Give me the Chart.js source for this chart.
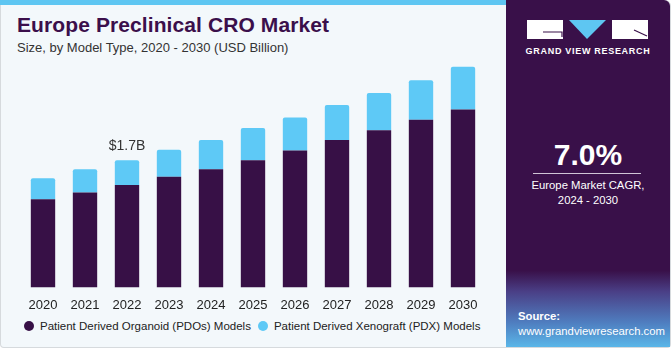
<!DOCTYPE html>
<html>
<head>
<meta charset="utf-8">
<script src="https://cdn.jsdelivr.net/npm/chart.js@4"></script>
<style>
    html, body { margin: 0; padding: 0; }
    body { width: 671px; height: 350px; position: relative; overflow: hidden; background: #ffffff; font-family: "Liberation Sans", Arial, sans-serif; }
    .card { position: absolute; left: 0; top: 0; width: 669px; height: 347px; background: #f3f8fb; border: 1px solid #d6dadd; border-top: none; border-radius: 0 6px 4px 4px; }
    .strip { position: absolute; left: 0; top: 0; width: 506px; height: 5px; background: #5ec6f2; }
    .title { position: absolute; left: 17px; top: 13px; font-size: 21px; font-weight: bold; color: #3b0f4b; letter-spacing: 0.1px; }
    .subtitle { position: absolute; left: 17px; top: 40px; font-size: 13px; color: #333; }
    .panel { position: absolute; left: 506px; top: 0; width: 164px; height: 347px; border-radius: 0 6px 0 0;
        background: linear-gradient(to bottom, #391049 0%, #391049 78%, #4a3f86 84%, #4f7ec0 93%, #5ab6e8 100%); }
    .brand { position: absolute; left: 0; top: 46px; width: 164px; text-align: center; white-space: nowrap; font-size: 9px; font-weight: bold; color: #fff; letter-spacing: 0.7px; }
    .cagr { position: absolute; left: 0; top: 140px; width: 164px; text-align: center; font-size: 30px; line-height: 30px; font-weight: bold; color: #fff; }
    .rule { position: absolute; left: 27px; top: 173px; width: 108px; height: 1px; background: #cfc4d6; }
    .cagr-txt { position: absolute; left: 0; top: 178px; width: 164px; text-align: center; font-size: 11.3px; color: #fff; line-height: 15px; }
    .src { position: absolute; left: 12px; top: 309px; font-size: 11.3px; color: #fff; line-height: 15px; }
    .chart-box { position: absolute; left: 0; top: 63px; width: 500px; height: 252px; }
    .legend { position: absolute; left: 24px; top: 320px; font-size: 11.5px; color: #222; white-space: nowrap; }
    .legend span.item { display: inline-block; margin-right: 7px; }
    .legend i { display: inline-block; width: 10px; height: 10px; border-radius: 50%; margin-right: 6px; vertical-align: -1px; }
</style>
</head>
<body>
<div class="card"></div>
<div class="strip"></div>
<div class="title">Europe Preclinical CRO Market</div>
<div class="subtitle">Size, by Model Type, 2020 - 2030 (USD Billion)</div>

<div class="panel">
    <svg width="164" height="45" style="position:absolute;left:0;top:0">
        <rect x="21" y="20" width="36" height="19" fill="#fff"/>
        <polyline points="37,32 56,32 56,37" fill="none" stroke="#391049" stroke-width="1.2"/>
        <polygon points="63,20 100,20 81,39" fill="#5ec6f2"/>
        <rect x="106" y="20" width="36" height="19" fill="#fff"/>
        <line x1="128" y1="30" x2="141" y2="36" stroke="#391049" stroke-width="1.2"/>
    </svg>
    <div class="brand">GRAND VIEW RESEARCH</div>
    <div class="cagr">7.0%</div>
    <div class="rule"></div>
    <div class="cagr-txt">Europe Market CAGR,<br>2024 - 2030</div>
    <div class="src"><b>Source:</b><br>www.grandviewresearch.com</div>
</div>

<div class="chart-box"><canvas id="chart"></canvas></div>
<div class="legend" id="legend"></div>

<script>
    const years = ['2020', '2021', '2022', '2023', '2024', '2025', '2026', '2027', '2028', '2029', '2030'];
    const pdoValues = [1.18, 1.27, 1.37, 1.48, 1.58, 1.70, 1.83, 1.97, 2.10, 2.24, 2.38];
    const pdxValues = [0.28, 0.31, 0.33, 0.36, 0.39, 0.43, 0.44, 0.47, 0.50, 0.53, 0.57];
    const seriesNames = ['Patient Derived Organoid (PDOs) Models', 'Patient Derived Xenograft (PDX) Models'];
    const callout = { index: 2, text: '$1.7B' };

    const colors = { pdo: '#371046', pdx: '#5ec9f6', text: '#222222' };
    const fontFamily = '"Liberation Sans", Arial, sans-serif';

    // draws the single value label above the 2022 bar
    const calloutPlugin = {
        id: 'callout',
        afterDatasetsDraw(chart) {
            const bar = chart.getDatasetMeta(1).data[callout.index];
            const ctx = chart.ctx;
            ctx.save();
            ctx.font = '14px ' + fontFamily;
            ctx.fillStyle = '#333';
            ctx.textAlign = 'center';
            ctx.textBaseline = 'alphabetic';
            ctx.fillText(callout.text, bar.x, bar.y - 10);
            ctx.restore();
        }
    };

    const chart = new Chart(document.getElementById('chart'), {
        type: 'bar',
        data: {
            labels: years,
            datasets: [
                {
                    label: seriesNames[0],
                    data: pdoValues,
                    backgroundColor: colors.pdo,
                    barPercentage: 0.58,
                    categoryPercentage: 1
                },
                {
                    label: seriesNames[1],
                    data: pdxValues,
                    backgroundColor: colors.pdx,
                    borderRadius: { topLeft: 2, topRight: 2 },
                    borderSkipped: 'bottom',
                    barPercentage: 0.58,
                    categoryPercentage: 1
                }
            ]
        },
        options: {
            responsive: true,
            maintainAspectRatio: false,
            animation: false,
            layout: { padding: { left: 22, right: 16, top: 0, bottom: 0 } },
            plugins: {
                tooltip: { enabled: false },
                legend: { display: false }
            },
            scales: {
                x: {
                    stacked: true,
                    grid: { display: false },
                    border: { display: false },
                    ticks: { color: colors.text, padding: 2, font: { family: fontFamily, size: 13 } }
                },
                y: {
                    stacked: true,
                    display: false,
                    min: 0,
                    max: 3.0
                }
            }
        },
        plugins: [calloutPlugin]
    });

    // html legend, same look as the original footer
    document.getElementById('legend').innerHTML = chart.data.datasets.map(ds =>
        '<span class="item"><i style="background:' + ds.backgroundColor + '"></i>' + ds.label + '</span>'
    ).join('');
</script>
</body>
</html>
